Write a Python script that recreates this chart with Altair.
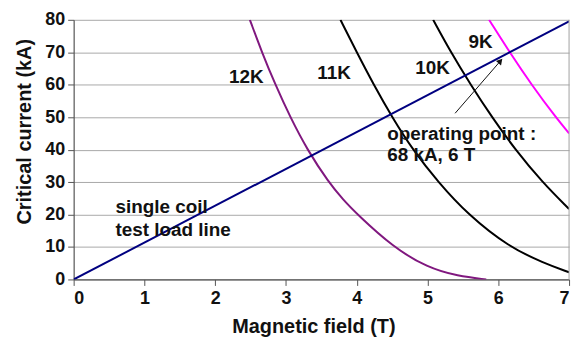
import altair as alt
import pandas as pd

# Critical current curves (Magnetic field T, Critical current kA)
k12_x = [2.49, 2.66, 2.85, 3.06, 3.30, 3.60, 3.81, 4.01, 4.51, 5.00, 5.43, 5.83]
k12_y = [80, 70, 60, 50, 40, 30, 24.5, 20, 10, 3.6, 1.0, 0]
k11_x = [3.77, 4.00, 4.24, 4.50, 4.79, 5.15, 5.57, 6.15, 6.64, 7.00]
k11_y = [80, 70, 60, 50, 40, 30, 20, 10, 5.1, 2.2]
k10_x = [5.08, 5.33, 5.61, 5.91, 6.24, 6.62, 7.00]
k10_y = [80, 70, 60, 50, 40, 30, 21.7]
k9_x = [5.87, 6.16, 6.47, 6.81, 7.00]
k9_y = [80, 70, 60, 50, 45]
load_x = [0, 7]
load_y = [0, 79.5]

series_names = ["12K", "11K", "10K", "9K", "load"]
series_colors = ["#80187f", "#000000", "#000000", "#ff00ff", "#000080"]

label_text = ["12K", "11K", "10K", "9K"]
label_x = [2.44, 3.68, 5.07, 5.75]
label_y = [62.5, 63.5, 65.1, 73.0]

note_text = ["operating point :", "68 kA, 6 T", "single coil", "test load line"]
note_x = [4.43, 4.43, 0.59, 0.59]
note_y = [44.9, 38.3, 22.4, 15.3]

arrow_from = (5.39, 51.2)
arrow_to = (6.03, 67.3)

x_ticks = [0, 1, 2, 3, 4, 5, 6, 7]
y_ticks = [0, 10, 20, 30, 40, 50, 60, 70, 80]

rows = []
for name, xs, ys in [("12K", k12_x, k12_y), ("11K", k11_x, k11_y),
                     ("10K", k10_x, k10_y), ("9K", k9_x, k9_y),
                     ("load", load_x, load_y)]:
    for i, (x, y) in enumerate(zip(xs, ys)):
        rows.append({"series": name, "B": x, "I": y, "order": i})
df = pd.DataFrame(rows)

xscale = alt.Scale(domain=[0, 7], nice=False)
yscale = alt.Scale(domain=[0, 80], nice=False)
x_axis = alt.Axis(title="Magnetic field (T)", values=x_ticks, format="d",
                  grid=False, titleX=241, titleY=47,
                  titleBaseline="middle", labelPadding=4)
y_axis = alt.Axis(title="Critical current (kA)", values=y_ticks, format="d",
                  grid=True, titleX=-49, titleY=112,
                  titleBaseline="middle", labelPadding=3)

X = lambda f: alt.X(f, scale=xscale, axis=x_axis)
Y = lambda f: alt.Y(f, scale=yscale, axis=y_axis)

lines = alt.Chart(df).mark_line(strokeWidth=2, interpolate="basis", clip=True).encode(
    x=X("B:Q"),
    y=Y("I:Q"),
    color=alt.Color("series:N", scale=alt.Scale(domain=series_names, range=series_colors),
                    legend=None),
    detail="series:N",
    order="order:Q",
)

right_border = alt.Chart(pd.DataFrame({"B": [7]})).mark_rule(
    color="#a0a0a0", strokeWidth=1).encode(x=X("B:Q"))

labels = alt.Chart(pd.DataFrame({"t": label_text, "B": label_x, "I": label_y})).mark_text(
    font="Liberation Sans", fontWeight="bold", fontSize=19, align="center",
    baseline="middle", color="#111111").encode(x=X("B:Q"), y=Y("I:Q"), text="t:N")

notes = alt.Chart(pd.DataFrame({"t": note_text, "B": note_x, "I": note_y})).mark_text(
    font="Liberation Sans", fontWeight="bold", fontSize=19, align="left",
    baseline="middle", color="#111111").encode(x=X("B:Q"), y=Y("I:Q"), text="t:N")

arrow_df = pd.DataFrame({"B": [arrow_from[0]], "I": [arrow_from[1]],
                         "B2": [arrow_to[0]], "I2": [arrow_to[1]]})
arrow_line = alt.Chart(arrow_df).mark_rule(color="#111111", strokeWidth=1).encode(
    x=X("B:Q"), y=Y("I:Q"), x2="B2:Q", y2="I2:Q")
arrow_head = alt.Chart(pd.DataFrame({"B": [arrow_to[0]], "I": [arrow_to[1]]})).mark_point(
    shape="triangle-up", filled=True, size=45, angle=41, color="#111111", opacity=1).encode(
    x=X("B:Q"), y=Y("I:Q"))

chart = alt.layer(lines, right_border, arrow_line, arrow_head, labels, notes).properties(
    width=498, height=261, autosize="none",
    padding={"left": 66, "top": 11, "right": 10, "bottom": 60},
).configure_view(stroke=None).configure_axis(
    labelFont="Liberation Sans", labelFontWeight="bold", labelFontSize=18,
    labelColor="#111111", titleFont="Liberation Sans", titleFontWeight="bold",
    titleFontSize=20, titleColor="#111111", domainColor="#555555",
    tickColor="#555555", tickSize=6, gridColor="#a8a8a8", gridWidth=1,
    domainWidth=1.2,
)

chart.save("out.html", embed_options={"renderer": "svg", "actions": False})
